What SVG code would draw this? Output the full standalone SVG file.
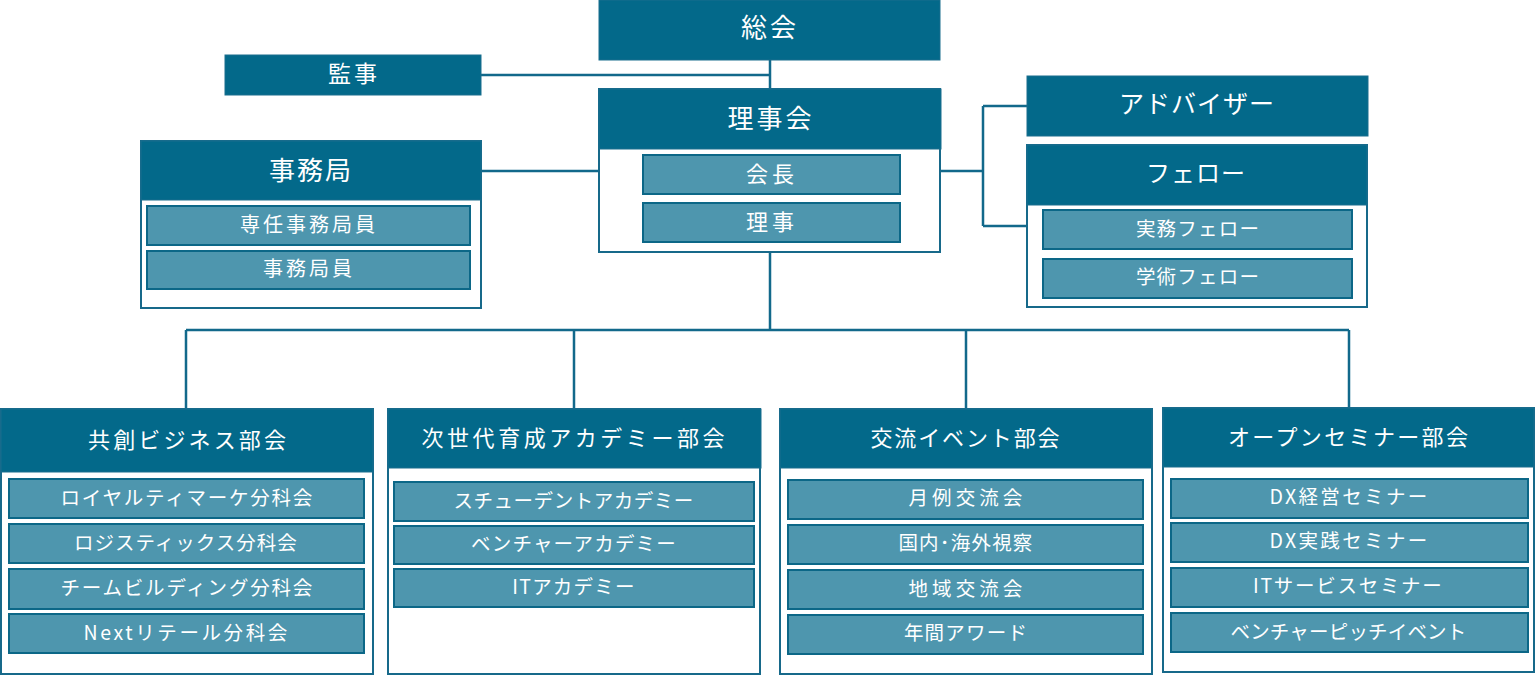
<svg xmlns="http://www.w3.org/2000/svg" width="1536" height="675" viewBox="0 0 1536 675">
<style>
.hd{fill:#03698a;stroke:#1a6f8e;stroke-width:1}
.box{fill:#ffffff;stroke:#17698a;stroke-width:2}
.sub{fill:#4e96ae;stroke:#0c6787;stroke-width:2}
.con{fill:none;stroke:#12698b;stroke-width:2.5}
text{font-family:"Noto Sans CJK JP","Noto Sans",sans-serif;fill:#ffffff;text-anchor:middle;dominant-baseline:central}
.t1{font-size:26px;letter-spacing:3px}
.t2{font-size:22px;letter-spacing:2px}
.t3{font-size:19.5px;letter-spacing:1.2px}
</style>
<g id="connectors">
<path class="con" d="M770,60 V89 M481,75 H770 M481,171 H599 M940,171 H983 M983,106 V226 M983,106 H1027 M983,226 H1027 M770,252 V330 M186,330 H1349 M186,330 V409 M574,330 V409 M966,330 V409 M1349,330 V408"/>
</g>
<g id="soukai">
<rect class="hd" x="599" y="0" width="341" height="60"/>
<text class="t1" x="770" y="25.5">総会</text>
</g>
<g id="kanji">
<rect class="hd" x="225" y="55" width="256" height="40"/>
<text class="t2" x="354" y="72" style="font-size:23px;letter-spacing:3px">監事</text>
</g>
<g id="rijikai">
<rect class="box" x="599" y="89" width="341" height="163"/>
<rect class="hd" x="599" y="89" width="342" height="60"/>
<text class="t1" x="771" y="116">理事会</text>
<rect class="sub" x="643" y="155" width="257" height="39"/>
<text class="t2" x="772" y="172" style="letter-spacing:4px">会長</text>
<rect class="sub" x="643" y="203" width="257" height="39"/>
<text class="t2" x="772" y="220" style="letter-spacing:4px">理事</text>
</g>
<g id="jimukyoku">
<rect class="box" x="141" y="141" width="340" height="167"/>
<rect class="hd" x="141" y="141" width="340" height="59"/>
<text class="t1" x="311" y="168" style="letter-spacing:2px">事務局</text>
<rect class="sub" x="147" y="206" width="323" height="39"/>
<text class="t3" x="309" y="223" style="font-size:20px;letter-spacing:3px">専任事務局員</text>
<rect class="sub" x="147" y="251" width="323" height="38"/>
<text class="t3" x="309" y="267" style="font-size:20px;letter-spacing:3px">事務局員</text>
</g>
<g id="advisor">
<rect class="hd" x="1027" y="76" width="341" height="60"/>
<text class="t1" x="1197" y="102" style="font-size:25px;letter-spacing:1px">アドバイザー</text>
</g>
<g id="fellow">
<rect class="box" x="1027" y="145" width="340" height="162"/>
<rect class="hd" x="1027" y="145" width="340" height="60"/>
<text class="t1" x="1196" y="171" style="font-size:24px;letter-spacing:1px">フェロー</text>
<rect class="sub" x="1043" y="210" width="309" height="39"/>
<text class="t3" x="1198" y="227">実務フェロー</text>
<rect class="sub" x="1043" y="259" width="309" height="39"/>
<text class="t3" x="1198" y="275">学術フェロー</text>
</g>
<g id="kyoso">
<rect class="box" x="1" y="409" width="372" height="265"/>
<rect class="hd" x="1" y="409" width="372" height="63"/>
<text class="t2" x="188" y="438" textLength="200" lengthAdjust="spacing">共創ビジネス部会</text>
<rect class="sub" x="9" y="479" width="355" height="39"/>
<text class="t3" x="187" y="496" textLength="253" lengthAdjust="spacing">ロイヤルティマーケ分科会</text>
<rect class="sub" x="9" y="524" width="355" height="39"/>
<text class="t3" x="186" y="541" textLength="224" lengthAdjust="spacing">ロジスティックス分科会</text>
<rect class="sub" x="9" y="569" width="355" height="40"/>
<text class="t3" x="187" y="586" textLength="253" lengthAdjust="spacing">チームビルディング分科会</text>
<rect class="sub" x="9" y="614" width="355" height="39"/>
<text class="t3" x="186" y="631" textLength="205" lengthAdjust="spacing">Nextリテール分科会</text>
</g>
<g id="jisedai">
<rect class="box" x="388" y="409" width="372" height="265"/>
<rect class="hd" x="388" y="409" width="373" height="59"/>
<text class="t2" x="574" y="436" textLength="305" lengthAdjust="spacing">次世代育成アカデミー部会</text>
<rect class="sub" x="394" y="482" width="360" height="39"/>
<text class="t3" x="574" y="499" textLength="241" lengthAdjust="spacing">スチューデントアカデミー</text>
<rect class="sub" x="394" y="526" width="360" height="38"/>
<text class="t3" x="574" y="542" textLength="206" lengthAdjust="spacing">ベンチャーアカデミー</text>
<rect class="sub" x="394" y="569" width="360" height="38"/>
<text class="t3" x="574" y="585">ITアカデミー</text>
</g>
<g id="koryu">
<rect class="box" x="780" y="409" width="372" height="265"/>
<rect class="hd" x="780" y="409" width="372" height="59"/>
<text class="t2" x="966" y="436" textLength="191" lengthAdjust="spacing">交流イベント部会</text>
<rect class="sub" x="788" y="480" width="355" height="39"/>
<text class="t3" x="966" y="496" textLength="115" lengthAdjust="spacing">月例交流会</text>
<rect class="sub" x="788" y="525" width="355" height="39"/>
<text class="t3" x="966" y="541">国内･海外視察</text>
<rect class="sub" x="788" y="570" width="355" height="39"/>
<text class="t3" x="966" y="587" textLength="115" lengthAdjust="spacing">地域交流会</text>
<rect class="sub" x="788" y="615" width="355" height="39"/>
<text class="t3" x="966" y="631">年間アワード</text>
</g>
<g id="open">
<rect class="box" x="1163" y="408" width="371" height="264"/>
<rect class="hd" x="1163" y="408" width="371" height="59"/>
<text class="t2" x="1349" y="435" textLength="242" lengthAdjust="spacing">オープンセミナー部会</text>
<rect class="sub" x="1171" y="479" width="357" height="39"/>
<text class="t3" x="1349" y="495" textLength="159" lengthAdjust="spacing">DX経営セミナー</text>
<rect class="sub" x="1171" y="523" width="357" height="39"/>
<text class="t3" x="1349" y="539" textLength="159" lengthAdjust="spacing">DX実践セミナー</text>
<rect class="sub" x="1171" y="568" width="357" height="39"/>
<text class="t3" x="1348" y="584" textLength="190" lengthAdjust="spacing">ITサービスセミナー</text>
<rect class="sub" x="1171" y="613" width="357" height="39"/>
<text class="t3" x="1349" y="630" textLength="237" lengthAdjust="spacing">ベンチャーピッチイベント</text>
</g>
</svg>
